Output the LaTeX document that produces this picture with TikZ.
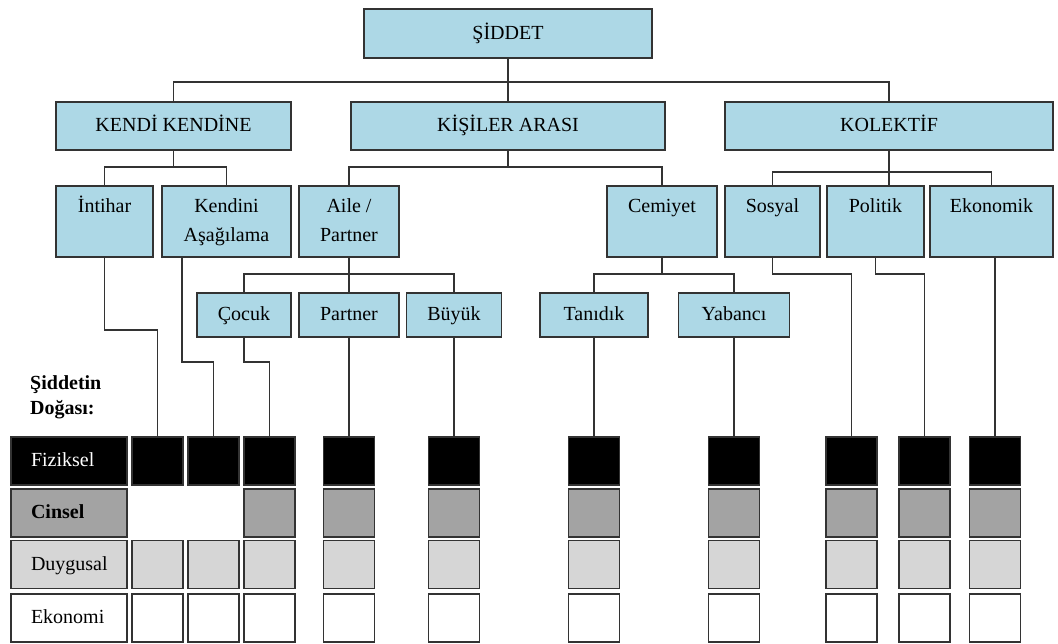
\documentclass[tikz,border=0pt]{standalone}
\usepackage{fontspec}
\setmainfont{Liberation Serif}
\usepackage{tikz}
\definecolor{lightblue}{HTML}{ADD8E6}
\definecolor{boxline}{HTML}{333333}
\definecolor{midgray}{HTML}{A3A3A3}
\definecolor{palegray}{HTML}{D6D6D6}
\tikzstyle{catbox} = [draw=boxline, fill=lightblue, line width=1.8pt, inner sep=0pt, align=center]
\tikzstyle{cell} = [draw=boxline, line width=1.8pt, minimum width=51pt, minimum height=48pt, inner sep=0pt]
\tikzstyle{rowlabel} = [cell, text width=76pt, inner xsep=20pt, align=left]
\tikzstyle{link} = [line width=1.7pt, boxline]

\begin{document}
\begin{tikzpicture}[x=1pt, y=-1pt, font=\fontsize{20}{29}\selectfont]
	\useasboundingbox (0,0) rectangle (1058,643);
	\node[catbox, minimum width=288pt, minimum height=49pt] (siddet) at (508,33.5) {\strut ŞİDDET};
	\node[catbox, minimum width=235pt, minimum height=48pt] (kendi) at (173.5,126) {\strut KENDİ KENDİNE};
	\node[catbox, minimum width=314pt, minimum height=48pt] (kisiler) at (508,126) {\strut KİŞİLER ARASI};
	\node[catbox, minimum width=328pt, minimum height=48pt] (kolektif) at (889,126) {\strut KOLEKTİF};
	\node[catbox, minimum width=97pt, minimum height=71pt] (intihar) at (104.5,221.5) {\strut İntihar\\\strut};
	\node[catbox, minimum width=129pt, minimum height=71pt] (kendini) at (226.5,221.5) {\strut Kendini\\\strut Aşağılama};
	\node[catbox, minimum width=100pt, minimum height=71pt] (aile) at (349,221.5) {\strut Aile /\\\strut Partner};
	\node[catbox, minimum width=110pt, minimum height=71pt] (cemiyet) at (662,221.5) {\strut Cemiyet\\\strut};
	\node[catbox, minimum width=95pt, minimum height=71pt] (sosyal) at (772.5,221.5) {\strut Sosyal\\\strut};
	\node[catbox, minimum width=97pt, minimum height=71pt] (politik) at (875.5,221.5) {\strut Politik\\\strut};
	\node[catbox, minimum width=123pt, minimum height=71pt] (ekonomik) at (991.5,221.5) {\strut Ekonomik\\\strut};
	\node[catbox, minimum width=94pt, minimum height=44pt] (cocuk) at (244,315) {\strut Çocuk};
	\node[catbox, minimum width=100pt, minimum height=44pt] (partner) at (349,315) {\strut Partner};
	\node[catbox, minimum width=95pt, minimum height=44pt] (buyuk) at (454,315) {\strut Büyük};
	\node[catbox, minimum width=108pt, minimum height=44pt] (tanidik) at (594,315) {\strut Tanıdık};
	\node[catbox, minimum width=111pt, minimum height=44pt] (yabanci) at (734,315) {\strut Yabancı};
	\node[font=\fontsize{20}{25}\selectfont\bfseries, align=left, anchor=west, inner sep=0pt] (doga) at (30,397.5) {Şiddetin\\Doğası:};
	\node[rowlabel, fill=black, text=white] (fiziksel) at (69,461) {\strut Fiziksel};
	\node[rowlabel, fill=midgray, font=\fontsize{20}{29}\selectfont\bfseries] (cinsel) at (69,513) {\strut Cinsel};
	\node[rowlabel, fill=palegray] (duygusal) at (69,564.5) {\strut Duygusal};
	\node[rowlabel, fill=white] (ekonomi) at (69,618) {\strut Ekonomi};
	\foreach \n/\x in {1/157.5,2/213.5,3/269.5,4/349,5/454,6/594,7/734,8/851.5,9/924.5,10/995}{
		\node[cell, fill=black] (f\n) at (\x,461) {};
		\node[cell, fill=palegray] (d\n) at (\x,564.5) {};
		\node[cell, fill=white] (e\n) at (\x,618) {};
	}
	\foreach \n/\x in {3/269.5,4/349,5/454,6/594,7/734,8/851.5,9/924.5,10/995}
		\node[cell, fill=midgray] (c\n) at (\x,513) {};
	\draw[link] (siddet) -- (kisiler);
	\draw[link] (kendi.north) |- (kolektif.north |- 0,82) -- (kolektif.north);
	\draw[link] (kendi.south) -- (kendi.south |- 0,167);
	\draw[link] (intihar.north) |- (kendini.north |- 0,167) -- (kendini.north);
	\draw[link] (kisiler.south) -- (kisiler.south |- 0,167);
	\draw[link] (aile.north) |- (cemiyet.north |- 0,167) -- (cemiyet.north);
	\draw[link] (kolektif.south) -- (kolektif.south |- politik.north);
	\draw[link] (sosyal.north) |- (ekonomik.north |- 0,172) -- (ekonomik.north);
	\draw[link] (aile) -- (partner);
	\draw[link] (cocuk.north) |- (buyuk.north |- 0,274) -- (buyuk.north);
	\draw[link] (cemiyet.south) -- (cemiyet.south |- 0,274);
	\draw[link] (tanidik.north) |- (yabanci.north |- 0,274) -- (yabanci.north);
	\draw[link] (intihar.south) |- (f1.north |- 0,330) -- (f1.north);
	\draw[link] ([xshift=21pt]kendini.south west) |- (f2.north |- 0,362) -- (f2.north);
	\draw[link] (cocuk.south) |- (f3.north |- 0,362) -- (f3.north);
	\draw[link] (partner) -- (f4);
	\draw[link] (buyuk) -- (f5);
	\draw[link] (tanidik) -- (f6);
	\draw[link] (yabanci) -- (f7);
	\draw[link] (sosyal.south) |- (f8.north |- 0,274) -- (f8.north);
	\draw[link] (politik.south) |- (f9.north |- 0,274) -- (f9.north);
	\draw[link] (ekonomik.south -| f10.north) -- (f10.north);
\end{tikzpicture}
\end{document}
